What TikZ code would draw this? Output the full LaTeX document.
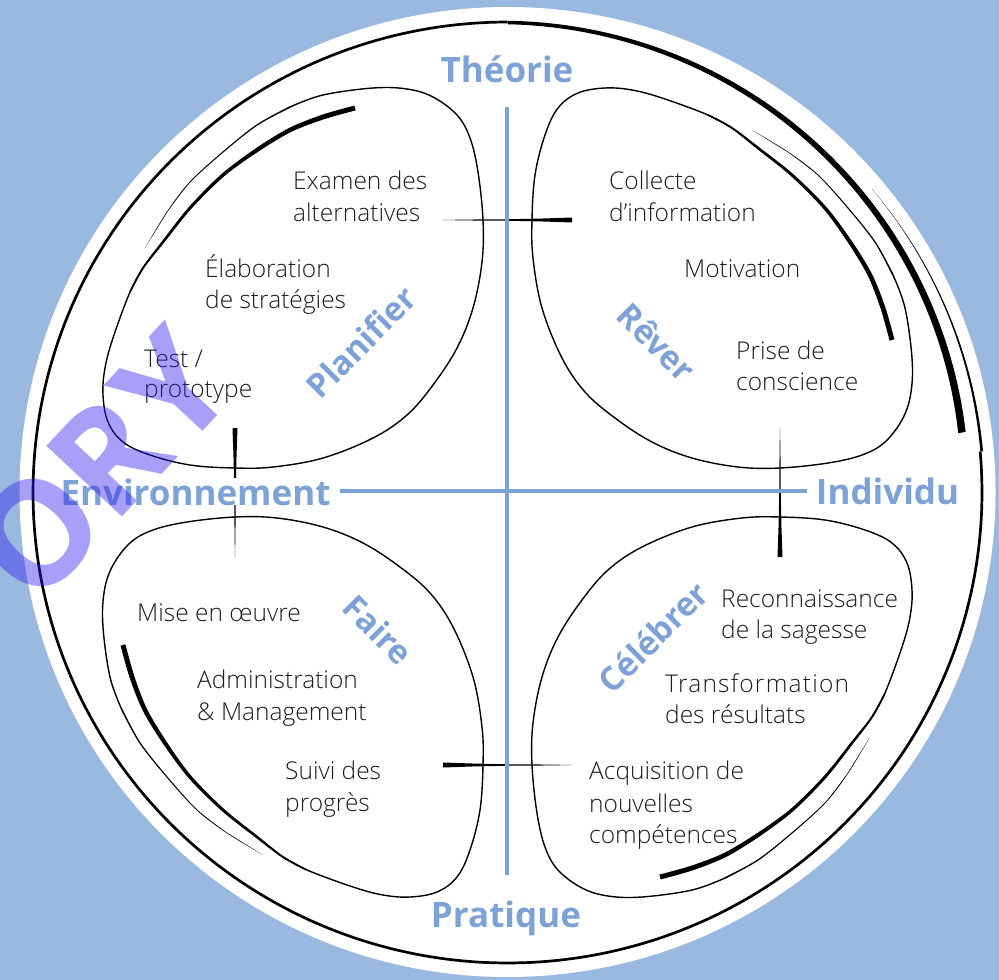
\documentclass[tikz,border=0pt]{standalone}
\usepackage{fontspec}
\setmainfont{Open Sans}
\IfFontExistsTF{Open Sans Light}{\newfontfamily\bodyfont{Open Sans Light}}{\newfontfamily\bodyfont{Open Sans}}
\definecolor{bgblue}{RGB}{153,185,224}
\definecolor{axblue}{RGB}{125,162,216}
\definecolor{txt}{RGB}{30,30,30}
\definecolor{wm}{RGB}{50,30,240}
\newcommand{\leafdeco}{%
  % outline of the leaf
  \draw[leafline] plot[smooth, tension=0.6] coordinates {(143,268) (130,292) (113,338) (105,368) (103,395) (108,422) (123,442) (150,455) (190,465) (235,468) (273,467) (323,458) (373,438) (407,415) (433,385) (457,348) (473,308) (482,262) (483,220) (478,172) (470,138) (457,115) (433,97) (407,89) (373,88) (323,95) (290,107)};
  % thick tapered stroke (inner)
  \fill plot[smooth] coordinates {(354.3,105.6) (322.2,114.7) (289.0,128.0) (255.9,148.3) (221.9,173.7) (188.9,207.0) (162.0,241.2) (142.2,267.5) (129.3,291.7)}
    -- plot[smooth] coordinates {(130.7,292.3) (143.8,268.5) (164.0,242.8) (191.1,209.0) (224.1,176.3) (258.1,151.7) (291.0,132.0) (323.8,119.3) (355.7,110.4)} -- cycle;
  % thin fading stroke (outer)
  \fill plot[smooth] coordinates {(289.6,106.3) (256.6,124.5) (222.6,151.6) (189.7,181.7) (166.8,211.8) (145,248)}
    -- plot[smooth] coordinates {(167.2,212.2) (190.3,182.3) (223.4,152.4) (257.4,125.5) (290.4,107.7)} -- cycle;
  % tapered tick
  \fill (443,220) -- (465,219.55) -- (505,219.3) -- (540,218.6) -- (572,217.5) -- (572,222.5) -- (540,221.4) -- (505,220.7) -- (465,220.45) -- cycle;
}
\tikzset{
  leafline/.style={line width=1.4pt, line join=round, line cap=round},
  body/.style={font=\bodyfont\fontsize{24.5}{29}\selectfont, text=txt, anchor=base west, inner sep=0pt},
  lab/.style={font=\fontsize{35}{40}\selectfont\bfseries, text=axblue, inner sep=0pt},
  quad/.style={font=\fontsize{33}{40}\selectfont\bfseries, text=axblue, inner sep=0pt},
  axisline/.style={draw=axblue, line width=4.5pt},
  wmstyle/.style={font=\fontsize{145}{155}\selectfont\bfseries, text=wm, text opacity=0.42, inner sep=0pt}
}
\begin{document}
\begin{tikzpicture}[x=1pt,y=-1pt]
\useasboundingbox (0,0) rectangle (999,980);
\fill[bgblue] (0,0) rectangle (999,980);
\fill[white] (507.5,492) ellipse [x radius=488, y radius=485];
% main ring
\draw[line width=2.7pt] plot[domain=90:365, samples=240, variable=\t] ({507.5+474.5*cos(\t)},{492.5-470.5*sin(\t)});
% thin fade-in part of the ring
\fill plot[domain=5:40, samples=40, variable=\t] ({507.5+(476+1.35*(40-\t)/35)*cos(\t)},{492.5-(472+1.35*(40-\t)/35)*sin(\t)})
  -- plot[domain=40:5, samples=40, variable=\t] ({507.5+(476-1.35*(40-\t)/35)*cos(\t)},{492.5-(472-1.35*(40-\t)/35)*sin(\t)}) -- cycle;
% thick tapered arc on the ring (top right)
\fill plot[domain=0:1, samples=90, variable=\t] ({507.5+(470-11.6*\t+1.75+2*\t)*cos(90-82.5*\t)},{492.5-(470-11.6*\t+1.75+2*\t)*sin(90-82.5*\t)})
  -- plot[domain=1:0, samples=90, variable=\t] ({507.5+(470-11.6*\t-1.75-2*\t)*cos(90-82.5*\t)},{492.5-(470-11.6*\t-1.75-2*\t)*sin(90-82.5*\t)}) -- cycle;
% four leaves
\leafdeco
\begin{scope}[rotate around={-90:(507.5,492.5)}]\leafdeco\end{scope}
\begin{scope}[rotate around={-180:(507.5,492.5)}]\leafdeco\end{scope}
\begin{scope}[rotate around={90:(507.5,492.5)}]\leafdeco\end{scope}
% axes
\coordinate (vtop) at (507,107);
\coordinate (vbot) at (507,875);
\coordinate (hleft) at (340,491);
\coordinate (hright) at (807,491);
\draw[axisline] (vtop) -- (vbot);
\draw[axisline] (hleft) -- (hright);
% axis labels
\node[lab, anchor=base, fill=white] (theorie) at (507,82) {Théorie};
\node[lab, anchor=base, fill=white] (pratique) at (506,927) {Pratique};
\node[lab, anchor=base, fill=white] (env) at (195.5,505) {Environnement};
\node[lab, anchor=base, fill=white] (indiv) at (887.5,504) {Individu};
% quadrant labels
\node[quad, rotate=45] (planifier) at (361,342) {Planifier};
\node[quad, rotate=-45] (rever) at (657,342) {Rêver};
\node[quad, rotate=-45] (faire) at (378,630) {Faire};
\node[quad, rotate=45] (celebrer) at (653,637) {Célébrer};
% body texts
\node[body] (ex1) at (293,189) {Examen des};
\node[body] (ex2) at (293,221) {alternatives};
\node[body] (el1) at (205,277) {Élaboration};
\node[body] (el2) at (205,308) {de stratégies};
\node[body] (te1) at (144,367) {Test /};
\node[body] (te2) at (144,397) {prototype};
\node[body] (co1) at (609,189) {Collecte};
\node[body] (co2) at (609,221) {d’information};
\node[body] (mo) at (684,277) {Motivation};
\node[body] (pr1) at (736,359) {Prise de};
\node[body] (pr2) at (736,390) {conscience};
\node[body] (mi) at (137,621) {Mise en œuvre};
\node[body] (ad1) at (197,688) {Administration};
\node[body] (ad2) at (197,720) {\& Management};
\node[body] (su1) at (285,779) {Suivi des};
\node[body] (su2) at (285,811) {progrès};
\node[body] (re1) at (721,607) {Reconnaissance};
\node[body] (re2) at (721,638) {de la sagesse};
\node[body] (tr1) at (665,692) {\addfontfeature{LetterSpace=5}Transformation};
\node[body] (tr2) at (665,723) {des résultats};
\node[body] (ac1) at (589,779) {Acquisition de};
\node[body] (ac2) at (589,812) {nouvelles};
\node[body] (ac3) at (589,843) {compétences};
% watermark
\node[wmstyle, rotate=47] (wmark) at (100,465) {ORY};
\end{tikzpicture}
\end{document}
